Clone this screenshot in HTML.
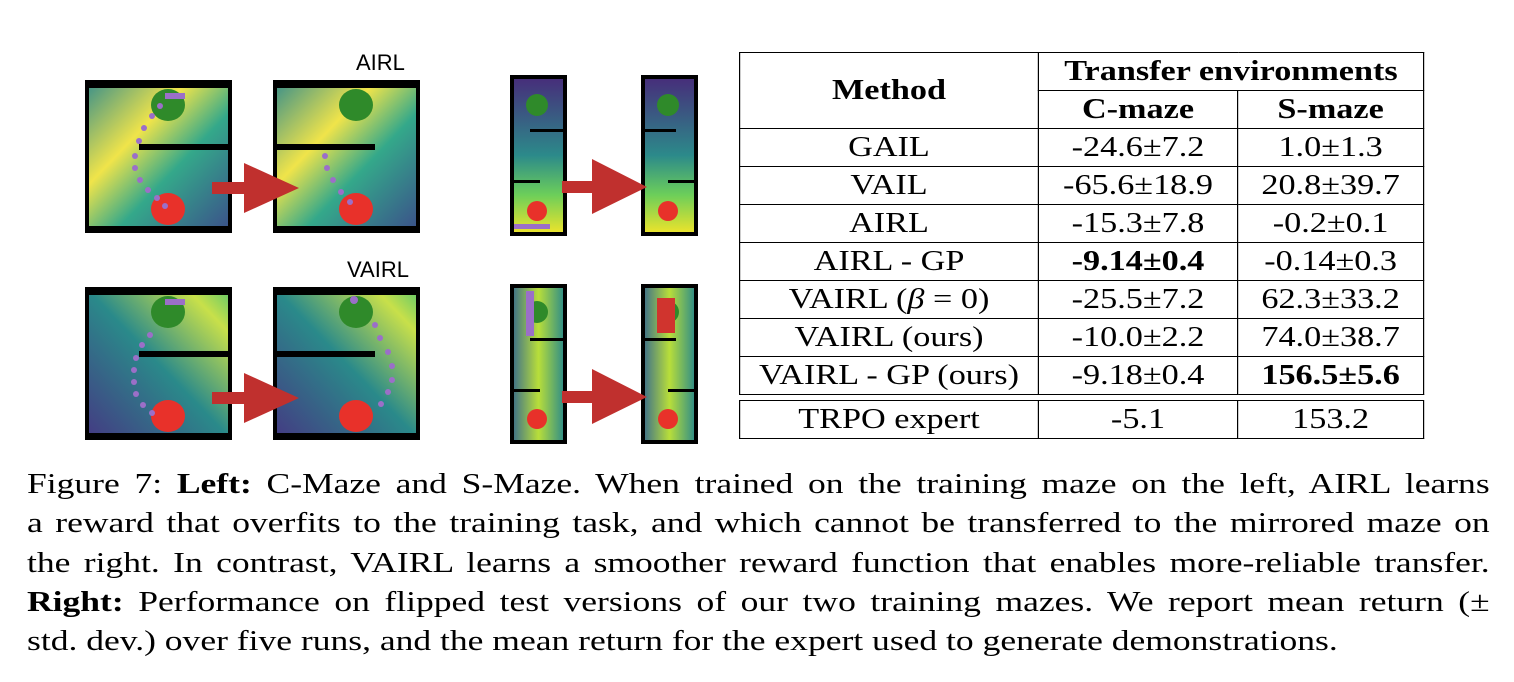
<!DOCTYPE html>
<html><head><meta charset="utf-8"><style>
body{margin:0;width:1514px;height:682px;background:#fff;position:relative;overflow:hidden;font-family:"Liberation Serif",serif;}
.cap{position:absolute;left:27px;width:1194px;font-size:29px;line-height:39.3px;top:465px;transform:scaleX(1.225);transform-origin:0 0;}
.cap div{white-space:nowrap;text-align:justify;text-align-last:justify;height:39.3px}
.cap div.last{text-align-last:left}
table{position:absolute;left:739px;top:52px;border-collapse:collapse;font-size:28.5px;transform:scaleX(1.2);transform-origin:0 0;}
td{border:1.5px solid #000;text-align:center;height:37px;padding:0;line-height:37px;white-space:nowrap}
</style></head><body>
<svg width="730" height="460" style="position:absolute;left:0;top:0">
<defs>
<linearGradient id="g1" x1="0" y1="0" x2="1" y2="1"><stop offset="0" stop-color="#3a8f8a"/><stop offset="0.35" stop-color="#f0e44a"/><stop offset="0.6" stop-color="#34a88a"/><stop offset="1" stop-color="#3b4f8a"/></linearGradient>
<linearGradient id="g2" x1="0" y1="1" x2="1" y2="0"><stop offset="0" stop-color="#443a83"/><stop offset="0.5" stop-color="#2a8a8a"/><stop offset="0.85" stop-color="#c8e04a"/><stop offset="1" stop-color="#5fc86a"/></linearGradient>
<linearGradient id="g3" x1="0" y1="0" x2="0" y2="1"><stop offset="0" stop-color="#472c7a"/><stop offset="0.5" stop-color="#2c8a8a"/><stop offset="0.75" stop-color="#6cce5a"/><stop offset="1" stop-color="#f0e42a"/></linearGradient>
<linearGradient id="g4" x1="0" y1="0" x2="1" y2="0"><stop offset="0" stop-color="#3b6e8c"/><stop offset="0.5" stop-color="#b8de3a"/><stop offset="1" stop-color="#2a8a8a"/></linearGradient>
</defs>
<text x="356" y="70" font-family="Liberation Sans" font-size="22">AIRL</text>
<text x="347" y="277" font-family="Liberation Sans" font-size="22">VAIRL</text>
<!-- top C -->
<g transform="translate(87,82)"><rect x="0" y="0" width="143" height="149" fill="url(#g1)" stroke="#000" stroke-width="4"/><rect x="-2" y="0" width="147" height="6"/><rect x="-2" y="144" width="147" height="6"/><rect x="52" y="62" width="91" height="6"/><ellipse cx="81" cy="23" rx="17" ry="16" fill="#2f8a2a"/><ellipse cx="81" cy="127" rx="17" ry="16" fill="#e8312a"/></g>
<g transform="translate(275,82)"><rect x="0" y="0" width="143" height="149" fill="url(#g1)" stroke="#000" stroke-width="4"/><rect x="-2" y="0" width="147" height="6"/><rect x="-2" y="144" width="147" height="6"/><rect x="0" y="62" width="100" height="6"/><ellipse cx="81" cy="23" rx="17" ry="16" fill="#2f8a2a"/><ellipse cx="81" cy="127" rx="17" ry="16" fill="#e8312a"/></g>
<!-- bottom C -->
<g transform="translate(87,289)"><rect x="0" y="0" width="143" height="149" fill="url(#g2)" stroke="#000" stroke-width="4"/><rect x="-2" y="0" width="147" height="6"/><rect x="-2" y="144" width="147" height="6"/><rect x="52" y="62" width="91" height="6"/><ellipse cx="81" cy="23" rx="17" ry="16" fill="#2f8a2a"/><ellipse cx="81" cy="127" rx="17" ry="16" fill="#e8312a"/></g>
<g transform="translate(275,289)"><rect x="0" y="0" width="143" height="149" fill="url(#g2)" stroke="#000" stroke-width="4"/><rect x="-2" y="0" width="147" height="6"/><rect x="-2" y="144" width="147" height="6"/><rect x="0" y="62" width="100" height="6"/><ellipse cx="81" cy="23" rx="17" ry="16" fill="#2f8a2a"/><ellipse cx="81" cy="127" rx="17" ry="16" fill="#e8312a"/></g>
<!-- purple trails -->
<g fill="#9b6fc8">
<rect x="165" y="93" width="20" height="6"/><circle cx="160" cy="106" r="3"/><circle cx="152" cy="116" r="3"/><circle cx="144" cy="128" r="3"/><circle cx="139" cy="141" r="3"/><circle cx="135" cy="156" r="3"/><circle cx="135" cy="168" r="3"/><circle cx="140" cy="180" r="3"/><circle cx="148" cy="190" r="3"/><circle cx="157" cy="198" r="3"/><circle cx="165" cy="206" r="3"/>
<circle cx="325" cy="156" r="3"/><circle cx="327" cy="168" r="3"/><circle cx="333" cy="180" r="3"/><circle cx="341" cy="192" r="3"/><circle cx="350" cy="202" r="3"/>
<rect x="165" y="299" width="20" height="6"/><circle cx="150" cy="335" r="3"/><circle cx="142" cy="345" r="3"/><circle cx="136" cy="358" r="3"/><circle cx="134" cy="370" r="3"/><circle cx="134" cy="382" r="3"/><circle cx="136" cy="394" r="3"/><circle cx="143" cy="405" r="3"/><circle cx="152" cy="413" r="3"/>
<circle cx="354" cy="300" r="4"/><circle cx="375" cy="325" r="3"/><circle cx="380" cy="338" r="3"/><circle cx="388" cy="352" r="3"/><circle cx="392" cy="366" r="3"/><circle cx="392" cy="380" r="3"/><circle cx="388" cy="392" r="3"/><circle cx="381" cy="404" r="3"/>
</g>
<!-- S mazes -->
<g transform="translate(512,77)"><rect x="0" y="0" width="53" height="157" fill="url(#g3)" stroke="#000" stroke-width="4"/><rect x="18" y="52" width="35" height="3"/><rect x="0" y="103" width="28" height="3"/><circle cx="25" cy="28" r="11" fill="#2f8a2a"/><circle cx="25" cy="134" r="10" fill="#e8312a"/><rect x="2" y="147" width="36" height="5" fill="#9b6fc8"/></g>
<g transform="translate(643,77)"><rect x="0" y="0" width="53" height="157" fill="url(#g3)" stroke="#000" stroke-width="4"/><rect x="0" y="52" width="33" height="3"/><rect x="25" y="103" width="28" height="3"/><circle cx="25" cy="28" r="11" fill="#2f8a2a"/><circle cx="25" cy="134" r="10" fill="#e8312a"/></g>
<g transform="translate(512,286)"><rect x="0" y="0" width="53" height="156" fill="url(#g4)" stroke="#000" stroke-width="4"/><rect x="18" y="52" width="35" height="3"/><rect x="0" y="103" width="28" height="3"/><circle cx="25" cy="26" r="11" fill="#2f8a2a"/><circle cx="25" cy="133" r="10" fill="#e8312a"/><rect x="14" y="5" width="8" height="45" fill="#9b6fc8"/></g>
<g transform="translate(643,286)"><rect x="0" y="0" width="53" height="156" fill="url(#g4)" stroke="#000" stroke-width="4"/><rect x="0" y="52" width="33" height="3"/><rect x="25" y="103" width="28" height="3"/><circle cx="25" cy="26" r="11" fill="#2f8a2a"/><circle cx="25" cy="133" r="10" fill="#e8312a"/><rect x="14" y="12" width="18" height="35" fill="#d0342e"/></g>
<!-- arrows -->
<g fill="#c0302e">
<path d="M212,182 h32 v-19 l55,25 l-55,25 v-19 h-32 z"/>
<path d="M212,392 h32 v-19 l55,25 l-55,25 v-19 h-32 z"/>
<path d="M562,181 h30 v-22 l55,28 l-55,27 v-21 h-30 z"/>
<path d="M562,391 h30 v-22 l55,28 l-55,27 v-21 h-30 z"/>
</g>
</svg>
<table>
<tr><td rowspan="2" style="width:248px"><b>Method</b></td><td colspan="2"><b>Transfer environments</b></td></tr>
<tr><td style="width:165px"><b>C-maze</b></td><td style="width:154px"><b>S-maze</b></td></tr>
<tr><td>GAIL</td><td>-24.6±7.2</td><td>1.0±1.3</td></tr>
<tr><td>VAIL</td><td>-65.6±18.9</td><td>20.8±39.7</td></tr>
<tr><td>AIRL</td><td>-15.3±7.8</td><td>-0.2±0.1</td></tr>
<tr><td>AIRL - GP</td><td><b>-9.14±0.4</b></td><td>-0.14±0.3</td></tr>
<tr><td>VAIRL (<i>β</i> = 0)</td><td>-25.5±7.2</td><td>62.3±33.2</td></tr>
<tr><td>VAIRL (ours)</td><td>-10.0±2.2</td><td>74.0±38.7</td></tr>
<tr><td>VAIRL - GP (ours)</td><td>-9.18±0.4</td><td><b>156.5±5.6</b></td></tr>
<tr><td colspan="3" style="height:5px;border-left:none;border-right:none;line-height:5px"></td></tr>
<tr><td>TRPO expert</td><td>-5.1</td><td>153.2</td></tr>
</table>
<div class="cap">
<div>Figure 7: <b>Left:</b> C-Maze and S-Maze. When trained on the training maze on the left, AIRL learns</div>
<div>a reward that overfits to the training task, and which cannot be transferred to the mirrored maze on</div>
<div>the right. In contrast, VAIRL learns a smoother reward function that enables more-reliable transfer.</div>
<div><b>Right:</b> Performance on flipped test versions of our two training mazes. We report mean return (±</div>
<div class="last">std. dev.) over five runs, and the mean return for the expert used to generate demonstrations.</div>
</div>
</body></html>
